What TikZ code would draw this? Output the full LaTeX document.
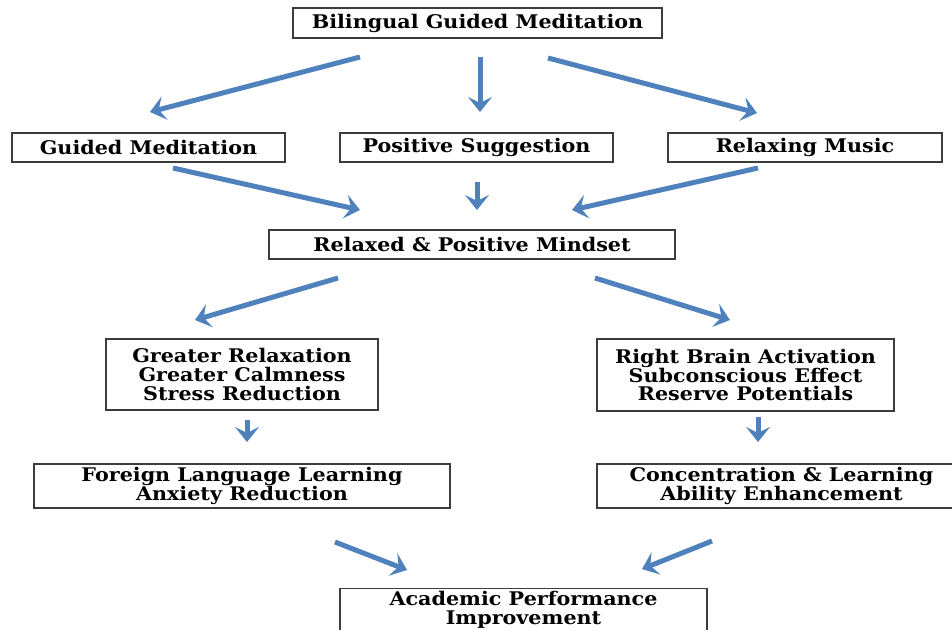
\documentclass[tikz,border=0pt]{standalone}
\usepackage{fontspec}
\setmainfont{DejaVu Serif}[FakeStretch=1.1]
\usetikzlibrary{arrows.meta}
\definecolor{arrowblue}{RGB}{79,129,189}
\definecolor{boxline}{RGB}{60,60,60}
\tikzset{
  box/.style={draw=boxline, line width=1.3pt, fill=white, inner sep=0pt, align=center,
    font=\bfseries\fontsize{18.8}{18.8}\selectfont, text=black},
  flow/.style={draw=arrowblue, line width=5pt,
    -{Stealth[length=15pt,width=24pt,inset=6pt]}}
}
\begin{document}
\begin{tikzpicture}[x=1pt,y=-1pt]
\useasboundingbox (0,0) rectangle (952,629);
\clip (0,0) rectangle (952,629);
% boxes
\node[box, minimum width=369pt, minimum height=30pt] (top) at (477.5,23) {Bilingual Guided Meditation};
\node[box, minimum width=273pt, minimum height=29pt] (gm) at (148.5,147.5) {Guided Meditation};
\node[box, minimum width=273pt, minimum height=29pt] (ps) at (476.5,147.5) {Positive Suggestion};
\node[box, minimum width=274pt, minimum height=29pt] (rm) at (805,147.5) {Relaxing Music};
\node[box, minimum width=406pt, minimum height=29pt] (rpm) at (472,244.5) {Relaxed \& Positive Mindset};
\node[box, minimum width=272pt, minimum height=71pt] (gr) at (242,374.5) {Greater Relaxation\\Greater Calmness\\Stress Reduction};
\node[box, minimum width=297pt, minimum height=72pt] (rb) at (745.5,375) {Right Brain Activation\\Subconscious Effect\\Reserve Potentials};
\node[box, minimum width=416pt, minimum height=44pt] (fl) at (242,486) {Foreign Language Learning\\Anxiety Reduction};
\node[box, minimum width=369pt, minimum height=44pt] (cl) at (781.5,486) {Concentration \& Learning\\Ability Enhancement};
\node[box, minimum width=367pt, minimum height=50pt, anchor=north] (ap) at (523.5,588) {\\[-12pt]Academic Performance\\Improvement};
% arrow end points
\coordinate (a1s) at (360,57);  \coordinate (a1e) at (150,112);
\coordinate (a2s) at (480,57);  \coordinate (a2e) at (480,112);
\coordinate (a3s) at (548,58);  \coordinate (a3e) at (757,113);
\coordinate (a4s) at (173,168); \coordinate (a4e) at (360,210);
\coordinate (a5s) at (477,182); \coordinate (a5e) at (477,210);
\coordinate (a6s) at (758,168); \coordinate (a6e) at (572,210);
\coordinate (a7s) at (338,278); \coordinate (a7e) at (195,320);
\coordinate (a8s) at (595,278); \coordinate (a8e) at (730,320);
\coordinate (a9s) at (247,420); \coordinate (a9e) at (247,442);
\coordinate (a10s) at (758,417); \coordinate (a10e) at (758,442);
\coordinate (a11s) at (335,542); \coordinate (a11e) at (407,570);
\coordinate (a12s) at (712,541); \coordinate (a12e) at (642,569);
\foreach \i in {1,...,12} { \draw[flow] (a\i s) -- (a\i e); }
\end{tikzpicture}
\end{document}
